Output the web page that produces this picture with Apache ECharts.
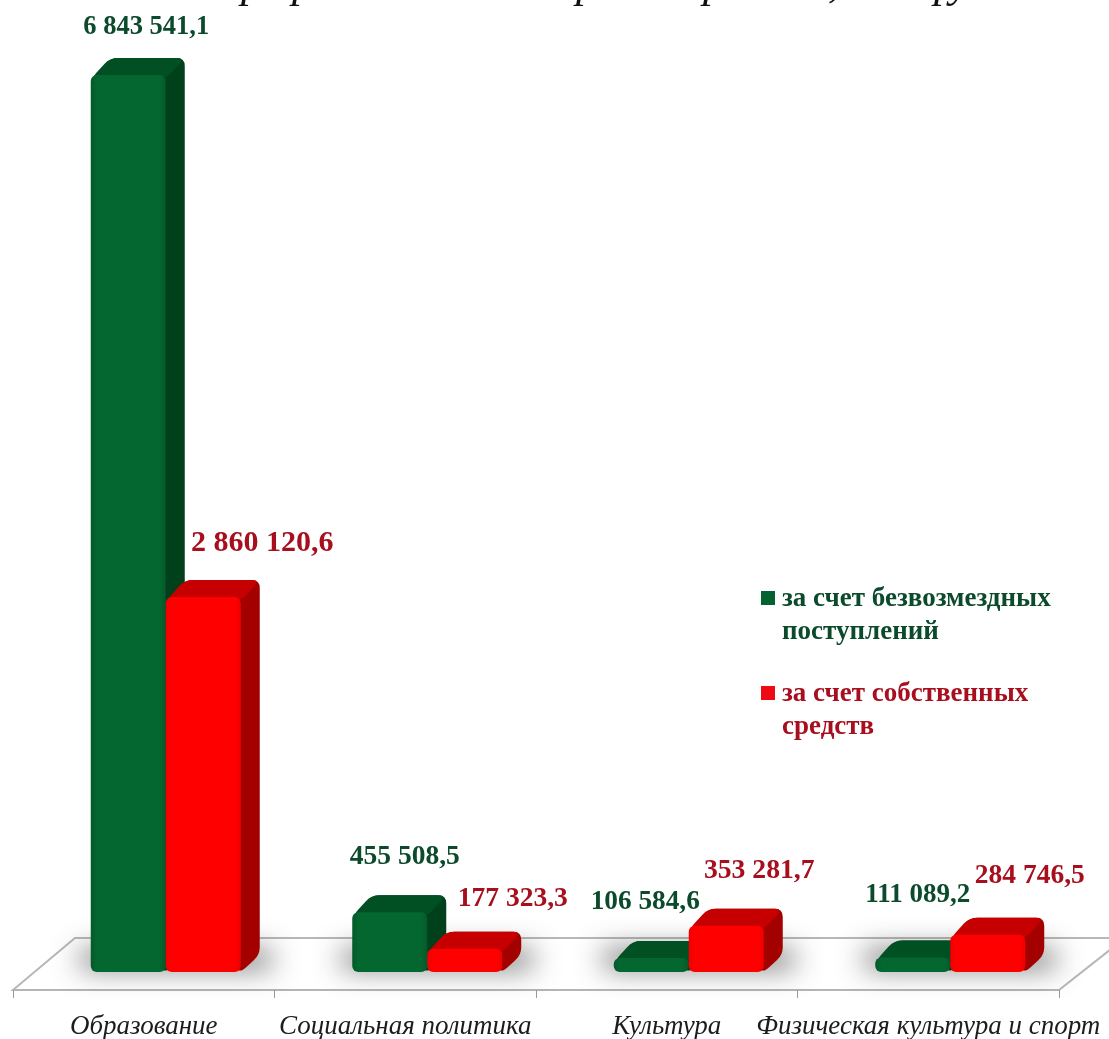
<!DOCTYPE html>
<html><head><meta charset="utf-8">
<style>html,body{margin:0;padding:0;background:#fff}#c{width:1109px;height:1039px}</style>
<script src="https://cdn.jsdelivr.net/npm/echarts@6/dist/echarts.min.js"></script></head>
<body><div id="c"></div>
<script>
const categories = ['Образование','Социальная политика','Культура','Физическая культура и спорт'];
const grantsName = 'за счет безвозмездных\nпоступлений';
const ownName = 'за счет собственных\nсредств';
const grants = [6843541.1, 455508.5, 106584.6, 111089.2];
const own = [2860120.6, 177323.3, 353281.7, 284746.5];
const grantsLabelOffset = [[18,-48],[15,-55],[-6,-56],[5,-62]];
const ownLabelOffset = [[59,-54],[48,-50],[33,-55],[42,-59]];
const grantsLabelSize = [26.5,27.5,27.3,27];
const ownLabelSize = [30,27.5,27.7,27.5];
const fmt = v => { const [a,b] = v.toFixed(1).split('.'); return a.replace(/\B(?=(\d{3})+$)/g,' ') + ',' + b; };

const FONT = '"Liberation Serif"';
const BAR_W = 75, DX = 19, DY = 17, SHIFT = 22, R = 6;

function rounded(pts, r){
  const n = pts.length; let d = '';
  for(let i=0;i<n;i++){
    const p = pts[i], a = pts[(i+n-1)%n], b = pts[(i+1)%n];
    const la = Math.hypot(a[0]-p[0],a[1]-p[1]), lb = Math.hypot(b[0]-p[0],b[1]-p[1]);
    const ra = Math.min(r, la/2), rb = Math.min(r, lb/2);
    const s = [p[0]+(a[0]-p[0])*ra/la, p[1]+(a[1]-p[1])*ra/la];
    const e = [p[0]+(b[0]-p[0])*rb/lb, p[1]+(b[1]-p[1])*rb/lb];
    d += (i?'L':'M')+s[0]+','+s[1]+'Q'+p[0]+','+p[1]+','+e[0]+','+e[1];
  }
  return d+'Z';
}
function bar3d(sign, colors, textColor, offsets, sizes){
  return function(params, api){
    const i = api.value(0), v = api.value(1);
    const base = api.coord([i,0]), top = api.coord([i,v]);
    const cx = base[0] + SHIFT + sign*BAR_W/2;
    const x0 = cx-BAR_W/2, x1 = cx+BAR_W/2, y0 = base[1], y1 = top[1];
    const off = offsets[i];
    const h = y0-y1, r = Math.min(R, h/2);
    return {type:'group',children:[
      {type:'path',shape:{pathData:rounded([[x0+4,y1+4],[x0+DX,y1-DY],[x1+DX,y1-DY],[x1+DX,y0-DY],[x1,y0],[x1-4,y0-4]],8)},style:{fill:colors.side}},
      {type:'path',shape:{pathData:rounded([[x0,y1+4],[x0+DX,y1-DY],[x1+DX,y1-DY],[x1,y1+4]],8)},style:{fill:colors.top}},
      {type:'rect',shape:{x:x0,y:y1,width:BAR_W,height:h,r:r},style:{fill:{type:'linear',x:0,y:0,x2:1,y2:0,colorStops:[
        {offset:0,color:colors.edge},{offset:.08,color:colors.front},{offset:.92,color:colors.front},{offset:1,color:colors.edge}]}}},
      {type:'text',style:{x:cx+off[0],y:y1+off[1],text:fmt(v),fill:textColor,font:'bold '+sizes[i]+'px '+FONT,align:'center',verticalAlign:'middle'}}
    ]};
  };
}
function floorShadow(params, api){
  const i = api.value(0);
  const base = api.coord([i,0]);
  const cx = base[0]+SHIFT;
  return {type:'rect',shape:{x:cx-BAR_W-10,y:base[1]-22-3000,width:2*BAR_W+40,height:18},
    style:{fill:'#000',shadowColor:'rgba(80,80,80,.85)',shadowBlur:28,shadowOffsetX:0,shadowOffsetY:3000}};
}
const legendIcon = 'path://M0,0L.01,0ZM0,8H14V22H0ZM16,66L16.01,66Z';
const titleBits = [['р',241],['р',292],['р',576],['р',703],[',',828],['р',934],['у',950]];

const chart = echarts.init(document.getElementById('c'),null,{renderer:'canvas'});
chart.setOption({
  animation:false,
  backgroundColor:'#fff',
  grid:{left:13,right:50,top:54.5,bottom:67,outerBoundsMode:'none'},
  xAxis:{type:'category',data:categories,offset:18,
    axisLine:{onZero:false,lineStyle:{color:'#b5b5b5',width:2}},
    axisTick:{show:true,length:8,lineStyle:{color:'#9a9a9a',width:1}},
    axisLabel:{interval:0,hideOverlap:false,margin:23,fontFamily:FONT,fontStyle:'italic',fontSize:27,color:'#1c1c1c'}},
  yAxis:{type:'value',min:0,max:7000000,show:false},
  legend:{orient:'vertical',left:756,top:578,itemGap:29,itemWidth:16,itemHeight:66,selectedMode:false,icon:legendIcon,
    data:[
      {name:grantsName,textStyle:{color:'#0c4a2c'}},
      {name:ownName,textStyle:{color:'#a80f1e'}}],
    textStyle:{fontFamily:FONT,fontWeight:'bold',fontSize:27,lineHeight:33},itemStyle:{borderWidth:0}},
  graphic:[
    {type:'polygon',silent:true,shape:{points:[[13,990],[1059,990],[1125,938],[75,938]]},
     style:{fill:'#fff',stroke:'#b8b8b8',lineWidth:2}},
    ...titleBits.map(b=>({type:'text',silent:true,x:b[1],y:-37,style:{text:b[0],font:'italic 44px '+FONT,fill:'#111'}}))
  ],
  series:[
    {type:'custom',name:'shadow',silent:true,renderItem:floorShadow,data:categories.map((c,i)=>[i]),encode:{x:0,y:1}},
    {type:'custom',name:grantsName,silent:true,itemStyle:{color:'#03622f'},
     renderItem:bar3d(-1,{front:'#03672f',edge:'#04592a',top:'#005023',side:'#00401b'},'#0c4a2c',grantsLabelOffset,grantsLabelSize),
     data:grants.map((v,i)=>[i,v]),encode:{x:0,y:1}},
    {type:'custom',name:ownName,silent:true,itemStyle:{color:'#ee0a14'},
     renderItem:bar3d(1,{front:'#ff0000',edge:'#f00000',top:'#c60000',side:'#a30000'},'#a80f1e',ownLabelOffset,ownLabelSize),
     data:own.map((v,i)=>[i,v]),encode:{x:0,y:1}}
  ]
});
</script></body></html>
